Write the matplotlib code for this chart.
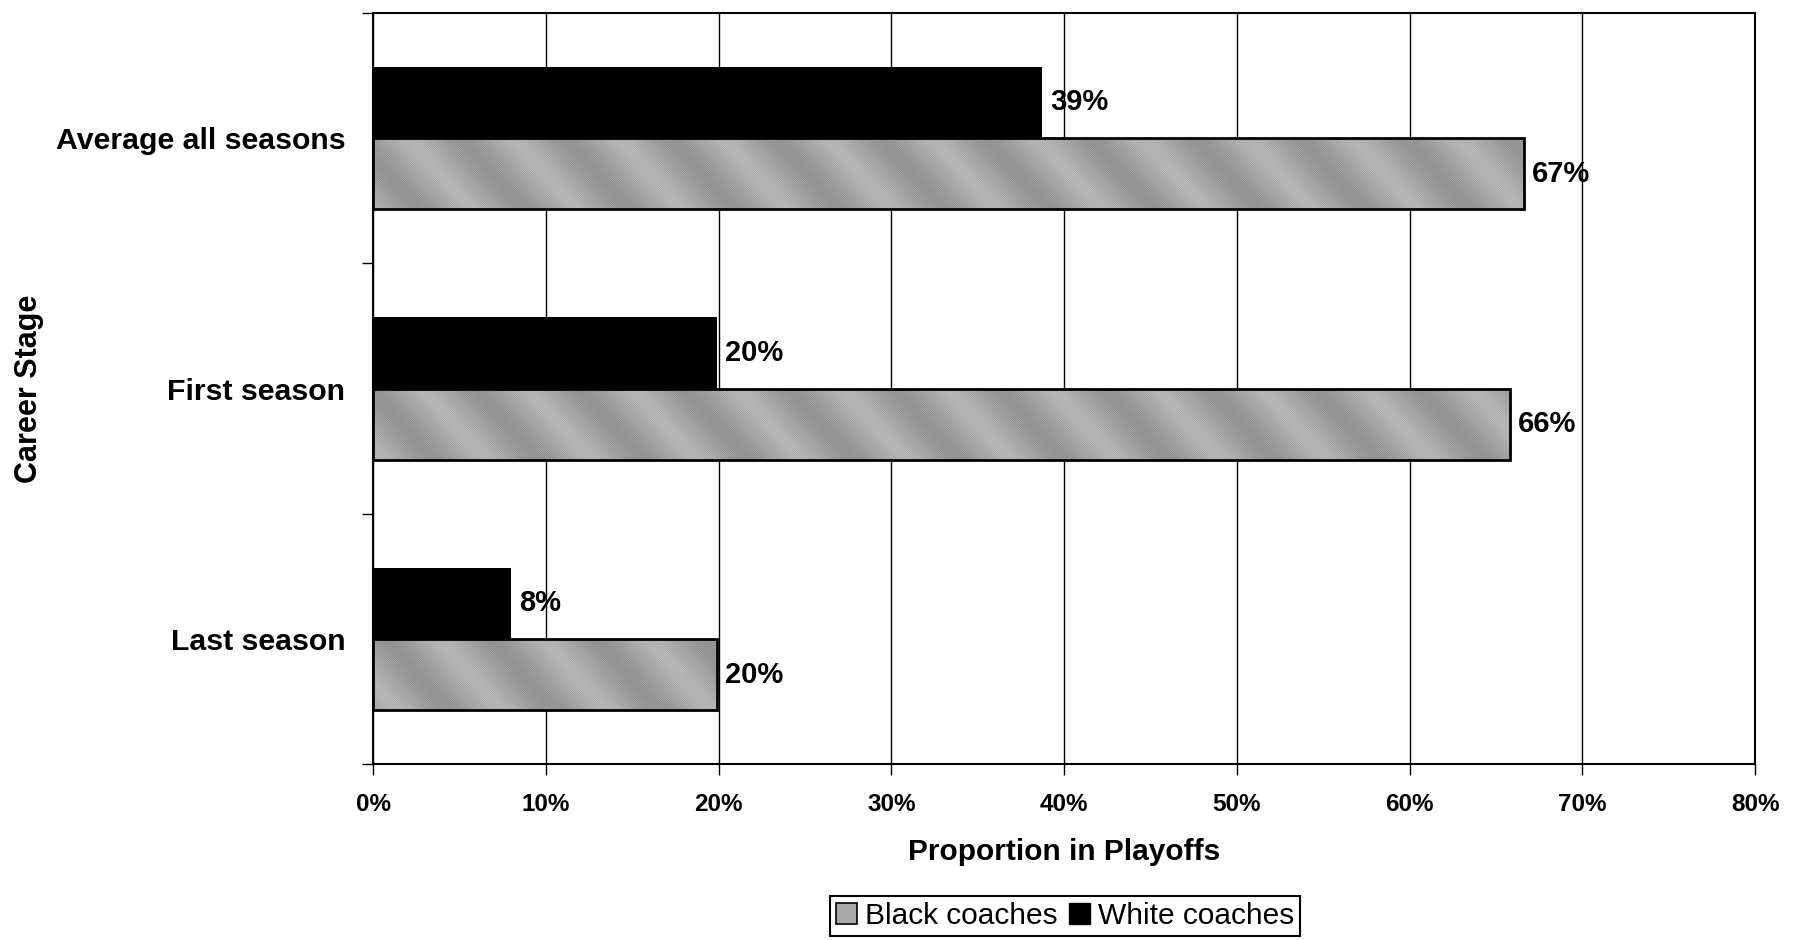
import numpy as np
import matplotlib
matplotlib.use('Agg')
import matplotlib.pyplot as plt
from matplotlib.patches import Patch

plt.rcParams['font.family'] = ['Liberation Sans', 'DejaVu Sans']

# data (percent in playoffs)
stages = ['Average all seasons', 'First season', 'Last season']
black_coaches = [66.6, 65.8, 19.9]
white_coaches = [38.7, 19.9, 8.0]
series_names = ['Black coaches', 'White coaches']
x_ticks = [0, 10, 20, 30, 40, 50, 60, 70, 80]

fig = plt.figure(figsize=(17.96, 9.40), dpi=100)
ax = fig.add_axes([0.2077, 0.1872, 0.7695, 0.799])

ypos = np.arange(len(stages))[::-1]  # first category on top
h = 0.285
gray = '#a8a8a8'

white_bars = ax.barh(ypos + h / 2, white_coaches, height=h, color='black', zorder=3)
black_bars = ax.barh(ypos - h / 2, black_coaches, height=h, color=gray, zorder=3)

# diagonal banded texture, like the scanned fill of the original
W, H = 1382, 751
cols, rows = np.meshgrid(np.arange(W), np.arange(H))
tex = 0.64 + 0.06 * np.sin(2 * np.pi * (cols - 0.9 * rows) / 105.0)
tex += 0.05 * ((cols + rows) % 2) - 0.025
for b in black_bars:
    im = ax.imshow(tex, cmap='gray', vmin=0, vmax=1, extent=(0, 80, -0.5, 2.5),
                   aspect='auto', zorder=3.5, interpolation='nearest')
    im.set_clip_path(b)
# outline on top of texture
ax.barh(ypos - h / 2, black_coaches, height=h, facecolor='none',
        edgecolor='black', linewidth=2, zorder=4)

ax.bar_label(white_bars, fmt='{:.0f}%', padding=6, fontsize=21, fontweight='bold')
ax.bar_label(black_bars, fmt='{:.0f}%', padding=6, fontsize=21, fontweight='bold')

ax.set_xlim(0, 80)
ax.set_ylim(-0.5, 2.5)
ax.set_xticks(x_ticks, labels=['{}%'.format(t) for t in x_ticks])
ax.set_yticks([-0.5, 0.5, 1.5, 2.5], labels=[])
ax.set_yticks(ypos, labels=stages, minor=True)
ax.tick_params(axis='x', length=8, width=1, pad=13, labelsize=17.5)
for lab in ax.get_xticklabels():
    lab.set_fontweight('bold')
ax.tick_params(axis='y', which='major', length=8, width=1)
ax.tick_params(axis='y', which='minor', length=0, pad=20, labelsize=21.8)
for lab in ax.get_yticklabels(minor=True):
    lab.set_fontweight('bold')

ax.xaxis.grid(True, color='black', linewidth=1)
ax.set_axisbelow(True)
for s in ax.spines.values():
    s.set_linewidth(1.5)

ax.set_xlabel('Proportion in Playoffs', fontsize=21.5, fontweight='bold')
ax.xaxis.set_label_coords(0.5, -0.098)
ax.set_ylabel('Career Stage', fontsize=22, fontweight='bold')
ax.yaxis.set_label_coords(-0.238, 0.5)

handles = [Patch(facecolor=gray, edgecolor='black', linewidth=1.2, label=series_names[0]),
           Patch(facecolor='black', edgecolor='black', label=series_names[1])]
leg = fig.legend(handles=handles, loc='upper center', bbox_to_anchor=(1065 / 1796, 1 - 896 / 940),
                 ncol=2, fontsize=21.5, frameon=True, fancybox=False, framealpha=1,
                 edgecolor='black', borderpad=0.2, handlelength=0.7, handleheight=0.7,
                 handletextpad=0.25, columnspacing=0.4, borderaxespad=0)
leg.get_frame().set_linewidth(1.5)

fig.savefig('out.png', dpi=100)
